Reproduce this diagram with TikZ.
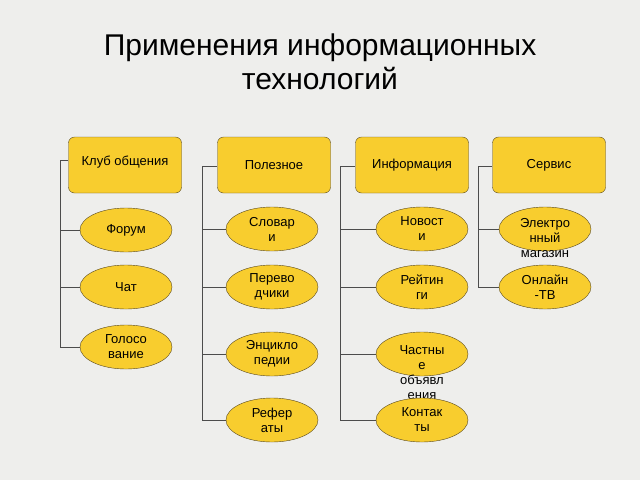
\documentclass[tikz,border=0pt]{standalone}
\usepackage{fontspec}
\setmainfont{Liberation Sans}
\usetikzlibrary{shapes.geometric}
\definecolor{bg}{HTML}{EEEEEC}
\definecolor{gold}{HTML}{F8CD2E}
\definecolor{edge}{HTML}{5A4A20}
\tikzset{
  hdr/.style={draw=edge,fill=gold,rounded corners=6pt,minimum width=113pt,minimum height=56pt,font=\fontsize{13}{15}\selectfont},
  ell/.style={ellipse,draw=edge,fill=gold,minimum width=92pt,minimum height=44pt,inner sep=0pt},
  txt/.style={align=center,font=\fontsize{13}{15}\selectfont},
  conn/.style={draw=black!70,line width=0.8pt}
}
\newcommand{\ellnode}[4]{\node[ell] (#1) at (#2,#3) {}; \node[txt] (#1t) at (#2,#3) {#4};}
\begin{document}
\begin{tikzpicture}[x=1pt,y=-1pt]
\fill[bg] (0,0) rectangle (640,480);
\useasboundingbox (0,0) rectangle (640,480);
\node[font=\fontsize{30}{34}\selectfont,align=center] (title) at (320,62) {Применения информационных\\технологий};
% columns coordinates
\coordinate (v1t) at (60,160); \coordinate (v1b) at (60,347);
\coordinate (v2t) at (202,166); \coordinate (v2b) at (202,420);
\coordinate (v3t) at (340,166); \coordinate (v3b) at (340,420);
\coordinate (v4t) at (478,166); \coordinate (v4b) at (478,287);
\draw[conn] (v1t) -- (v1b); \draw[conn] (v2t) -- (v2b);
\draw[conn] (v3t) -- (v3b); \draw[conn] (v4t) -- (v4b);
\node[hdr] (h1) at (125,165) {}; \node[txt] (h1t) at (125,162) {Клуб общения};
\node[hdr] (h2) at (274,165) {Полезное};
\node[hdr] (h3) at (412,165) {Информация};
\node[hdr] (h4) at (549,165) {Сервис};
\draw[conn] (v1t) -- (v1t -| h1.west);
\draw[conn] (v2t) -- (v2t -| h2.west);
\draw[conn] (v3t) -- (v3t -| h3.west);
\draw[conn] (v4t) -- (v4t -| h4.west);
\foreach \n/\x/\y in {a1/126/230,a2/126/287,a3/126/347,b1/272/229,b2/272/287,b3/272/354,b4/272/420,c1/422/229,c2/422/287,c3/422/354,c4/422/420,d1/545/229,d2/545/287}{
  \coordinate (\n c) at (\x,\y);
}
\foreach \n/\v in {a1/1,a2/1,a3/1,b1/2,b2/2,b3/2,b4/2,c1/3,c2/3,c3/3,c4/3,d1/4,d2/4}{
  \draw[conn] (\n c -| v\v t) -- (\n c);
}
\ellnode{a1}{126}{230}{Форум}
\ellnode{a2}{126}{287}{Чат}
\ellnode{a3}{126}{347}{Голосо\\вание}
\ellnode{b1}{272}{229}{Словар\\и}
\ellnode{b2}{272}{287}{Перево\\дчики}
\ellnode{b3}{272}{354}{Энцикло\\педии}
\ellnode{b4}{272}{420}{Рефер\\аты}
\ellnode{c1}{422}{229}{Новост\\и}
\ellnode{c2}{422}{287}{Рейтин\\ги}
\node[ell] (c3) at (422,354) {};
\node[txt] (c3t) at (422,373) {Частны\\е\\объявл\\ения};
\ellnode{c4}{422}{420}{Контак\\ты}
\node[ell] (d1) at (545,229) {};
\node[txt] (d1t) at (545,238) {Электро\\нный\\магазин};
\ellnode{d2}{545}{287}{Онлайн\\-ТВ}
\end{tikzpicture}
\end{document}
